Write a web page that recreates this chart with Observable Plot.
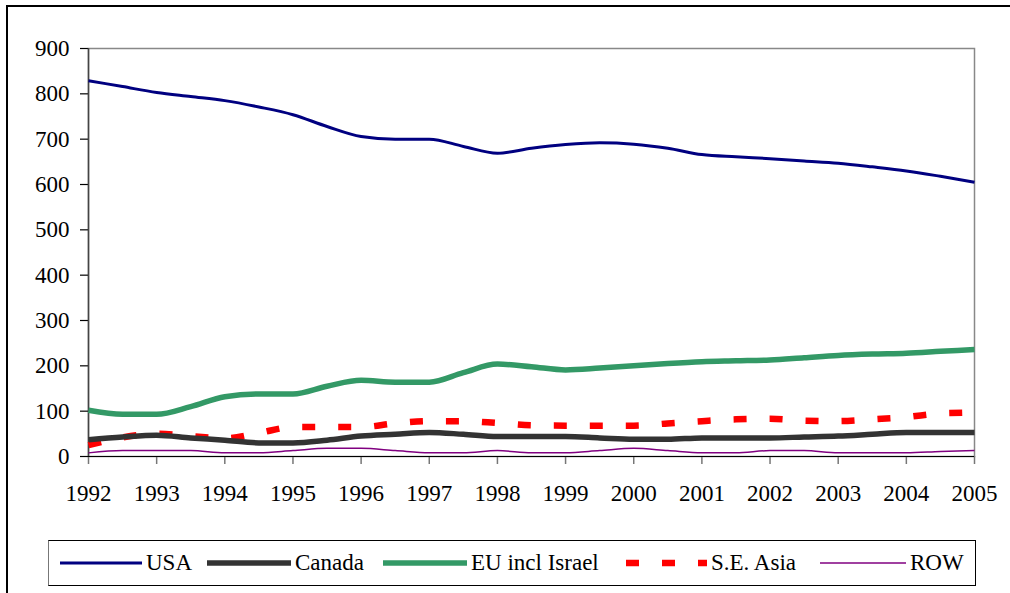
<!DOCTYPE html>
<html>
<head>
<meta charset="utf-8">
<script src="https://cdn.jsdelivr.net/npm/d3@7"></script>
<script src="https://cdn.jsdelivr.net/npm/@observablehq/plot@0.6"></script>
<style>
  html, body { margin: 0; padding: 0; background: #fff; }
  #wrap { position: relative; width: 1010px; height: 593px; overflow: hidden; font-family: Liberation Serif, DejaVu Serif, serif; }
  #frame { position: absolute; left: 6px; top: 5px; width: 1020px; height: 620px; border: 2px solid #000; box-sizing: border-box; }
  #chart { position: absolute; left: 0; top: 0; }
  #chart svg, #chart svg text { font-family: Liberation Serif, DejaVu Serif, serif; }
  #legend { position: absolute; left: 48px; top: 540px; width: 928px; height: 46px; border: 1px solid #000; border-left-color: #777; box-sizing: border-box; background: #fff; }
  .item { position: absolute; top: 0; height: 44px; display: flex; align-items: center; font-size: 23px; color: #000; white-space: nowrap; }
  .item svg { margin-right: 4px; }
</style>
</head>
<body>
<div id="wrap">
  <div id="frame"></div>
  <div id="chart"></div>
  <div id="legend"></div>
</div>
<script>
const periods = [1992, 1992.5, 1993, 1993.5, 1994, 1994.5, 1995, 1995.5, 1996, 1996.5, 1997, 1997.5, 1998, 1998.5, 1999, 1999.5, 2000, 2000.5, 2001, 2001.5, 2002, 2002.5, 2003, 2003.5, 2004, 2004.5, 2005];
const usa    = [829, 816, 803, 794, 785, 771, 754, 728, 706, 700, 700, 684, 669, 680, 688, 692, 689, 680, 666, 661, 657, 652, 647, 639, 630, 618, 605];
const canada = [37, 43, 47, 41, 36, 30, 30, 36, 45, 49, 53, 49, 44, 44, 44, 41, 38, 38, 41, 41, 41, 43, 45, 49, 53, 53, 53];
const eu     = [102, 93, 93, 110, 132, 138, 138, 155, 168, 164, 164, 185, 204, 198, 191, 195, 200, 205, 209, 211, 213, 218, 223, 226, 228, 232, 236];
const seAsia = [25, 42, 50, 45, 40, 52, 65, 65, 65, 73, 78, 78, 74, 69, 68, 68, 68, 73, 78, 82, 83, 79, 78, 82, 87, 95, 97];
const row    = [8, 13, 13, 13, 8, 8, 13, 18, 18, 13, 8, 8, 13, 8, 8, 13, 18, 13, 8, 8, 13, 13, 8, 8, 8, 11, 13];
const xTicks = [1992, 1993, 1994, 1995, 1996, 1997, 1998, 1999, 2000, 2001, 2002, 2003, 2004, 2005];
const yTicks = [0, 100, 200, 300, 400, 500, 600, 700, 800, 900];
const seriesNames = ["USA", "Canada", "EU incl Israel", "S.E. Asia", "ROW"];

const styles = {
  "USA": {stroke: "#000080", width: 3, dash: null},
  "Canada": {stroke: "#333333", width: 5.5, dash: null},
  "EU incl Israel": {stroke: "#339966", width: 5.5, dash: null},
  "S.E. Asia": {stroke: "#FF0000", width: 6.5, dash: "13,23"},
  "ROW": {stroke: "#800080", width: 1.5, dash: null}
};
const valuesBy = {"USA": usa, "Canada": canada, "EU incl Israel": eu, "S.E. Asia": seAsia, "ROW": row};
const table = name => periods.map((p, i) => ({x: p, y: valuesBy[name][i]}));

const drawOrder = ["ROW", "S.E. Asia", "EU incl Israel", "Canada", "USA"];
const lineMarks = drawOrder.map(name => Plot.line(table(name), {
  x: "x", y: "y", curve: "monotone-x",
  stroke: styles[name].stroke, strokeWidth: styles[name].width,
  strokeDasharray: styles[name].dash, strokeLinecap: "butt", strokeLinejoin: "round"
}));

const serif = "Liberation Serif, DejaVu Serif, serif";
const chart = Plot.plot({
  width: 1010, height: 530,
  marginLeft: 88, marginRight: 36, marginTop: 48, marginBottom: 74,
  style: {fontFamily: serif, fontSize: "23px", background: "transparent", color: "#000"},
  x: {domain: [1992, 2005]},
  y: {domain: [0, 900]},
  marks: [
    Plot.frame({stroke: "#888", strokeWidth: 1.5}),
    Plot.axisX({ticks: xTicks, tickFormat: d => String(d), tickSize: 8, tickPadding: 20, stroke: "#777", strokeWidth: 1.5, label: null, fill: "#000", fontFamily: serif}),
    Plot.axisY({ticks: yTicks, tickSize: 8, tickPadding: 11, stroke: "#000", strokeWidth: 1.2, label: null, fill: "#000", fontFamily: serif}),
    Plot.ruleX([1992], {stroke: "#444", strokeWidth: 1.5}),
    Plot.ruleY([0], {stroke: "#000", strokeWidth: 1.2}),
    ...lineMarks
  ]
});
document.getElementById("chart").appendChild(chart);

// Legend
const legendPos = {
  "USA": {left: 11, sw: 82},
  "Canada": {left: 158, sw: 84},
  "EU incl Israel": {left: 334, sw: 84},
  "S.E. Asia": {left: 577, sw: 81},
  "ROW": {left: 771, sw: 86}
};
const legend = document.getElementById("legend");
seriesNames.forEach(name => {
  const s = styles[name];
  const pos = legendPos[name];
  const item = document.createElement("div");
  item.className = "item";
  item.style.left = pos.left + "px";
  const svg = d3.create("svg").attr("width", pos.sw).attr("height", 12);
  svg.append("line")
    .attr("x1", 0).attr("x2", pos.sw).attr("y1", 6).attr("y2", 6)
    .attr("stroke", s.stroke).attr("stroke-width", s.dash ? 6.5 : s.width)
    .attr("stroke-dasharray", s.dash)
    .attr("stroke-linecap", s.dash ? "butt" : "round");
  item.appendChild(svg.node());
  const t = document.createElement("span");
  t.textContent = name;
  item.appendChild(t);
  legend.appendChild(item);
});
</script>
</body>
</html>
